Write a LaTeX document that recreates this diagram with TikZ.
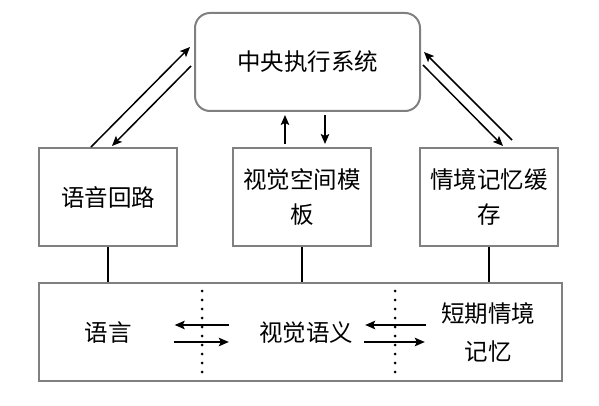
\documentclass[tikz,border=0pt]{standalone}
\usepackage{fontspec}
\setmainfont{Noto Sans CJK SC}
\usetikzlibrary{calc,arrows.meta}
\definecolor{boxgray}{RGB}{128,128,128}
\tikzset{
  box/.style={draw=boxgray,line width=2pt,inner sep=0pt,align=center,
    font=\fontsize{23.5}{35}\selectfont},
  lbl/.style={inner sep=0pt,align=center,font=\fontsize{23.5}{38}\selectfont},
  arr/.style={line width=1.5pt,-{Stealth[length=10pt,width=8.5pt,inset=2pt]}},
  link/.style={line width=2pt},
  dots/.style={line width=3pt,line cap=round,dash pattern=on 0pt off 9pt}
}
\begin{document}
\begin{tikzpicture}[x=1pt,y=-1pt]
\useasboundingbox (0,0) rectangle (599,406);
% boxes
\node[box,rounded corners=15pt,minimum width=225pt,minimum height=98pt] (T) at (307.5,62) {中央执行系统};
\node[box,minimum width=138pt,minimum height=98pt] (L) at (108,197) {语音回路};
\node[box,minimum width=138pt,minimum height=98pt] (M) at (302,197) {视觉空间模\\板};
\node[box,minimum width=138pt,minimum height=98pt] (R) at (489,197) {情境记忆缓\\存};
\node[box,minimum width=523pt,minimum height=98pt] (B) at (300.5,332) {};
% texts inside bottom box
\node[lbl] (t1) at (108,333) {语言};
\node[lbl] (t2) at (306,333) {视觉语义};
\node[lbl] (t3) at (488,332) {短期情境\\记忆};
% arrows between top and lower boxes
\draw[arr] ($(L.north)+(-17,0)$) -- ($(T.west)+(-4,-15)$);
\draw[arr] ($(T.west)+(-3,4)$) -- ($(L.north)+(4,-1)$);
\draw[arr] ($(T.south)+(-22.5,32)$) -- ($(T.south)+(-22.5,3)$);
\draw[arr] ($(T.south)+(17.5,3)$) -- ($(T.south)+(17.5,32)$);
\draw[arr] ($(R.north)+(23,-7)$) -- ($(T.east)+(3,-10)$);
\draw[arr] ($(T.east)+(2,3)$) -- ($(R.north)+(14,-1)$);
% links down to bottom box
\draw[link] (L.south) -- (L.south |- B.north);
\draw[link] (M.south) -- (M.south |- B.north);
\draw[link] (R.south) -- (R.south |- B.north);
% dotted separators
\draw[dots] (202,291) -- (202,373);
\draw[dots] (395,291) -- (395,373);
% arrows inside bottom box
\draw[arr] ($(t2.west)+(-30,-8)$) -- ($(t1.east)+(43,-8)$);
\draw[arr] ($(t1.east)+(42,9)$) -- ($(t2.west)+(-30,9)$);
\draw[arr] ($(t3.west)+(-15,-7)$) -- ($(t2.east)+(12,-8)$);
\draw[arr] ($(t2.east)+(11,9)$) -- ($(t3.west)+(-16,10)$);
\end{tikzpicture}
\end{document}
